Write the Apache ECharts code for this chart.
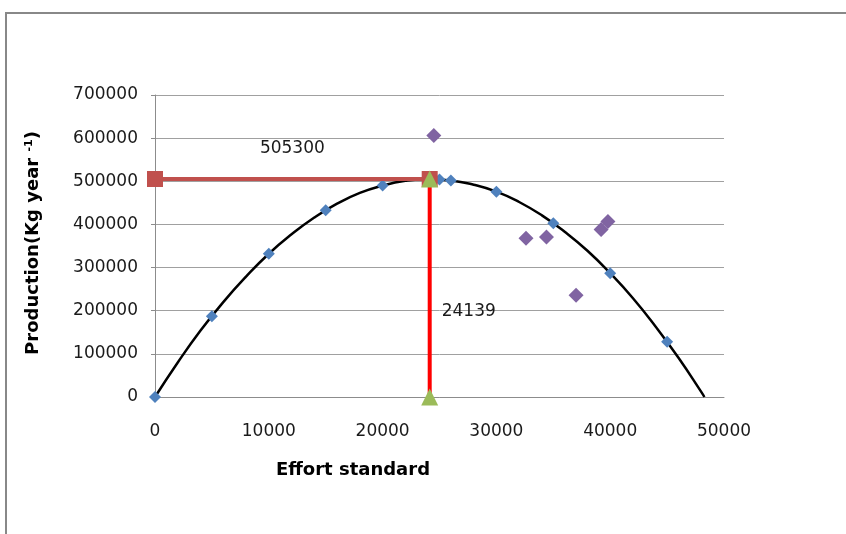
<!DOCTYPE html>
<html>
<head>
<meta charset="utf-8">
<script src="https://cdn.jsdelivr.net/npm/echarts@6/dist/echarts.min.js"></script>
<style>
html,body{margin:0;padding:0;background:#fff;}
#c{width:846px;height:534px;}
</style>
</head>
<body>
<div id="c"></div>
<script>
// Fitted production curve
const curveEffort = [0, 2000, 4000, 6000, 8000, 10000, 12000, 14000, 16000, 18000, 20000, 22000, 24000, 26000, 28000, 30000, 32000, 34000, 36000, 38000, 40000, 42000, 44000, 46000, 48000, 48280];
const curveProd   = [0, 80000, 154000, 220000, 279000, 332000, 377000, 416000, 448000, 473000, 490000, 501000, 505000, 502000, 492000, 476000, 452000, 421000, 383000, 339000, 287000, 229000, 163000, 91000, 12000, 0];

// Model points (blue diamonds)
const modelEffort = [0, 5000, 10000, 15000, 20000, 25000, 26000, 30000, 35000, 40000, 45000];
const modelProd   = [0, 187000, 332000, 433000, 490000, 504000, 502000, 476000, 403000, 287000, 128000];

// Observed points (purple diamonds)
const obsEffort = [24500, 32600, 34400, 37000, 39200, 39800];
const obsProd   = [606000, 368000, 371000, 236000, 388000, 407000];

// MSY and optimum effort
const msy = 505300;
const fmsy = 24139;

// Axis ticks
const xTicks = [0, 10000, 20000, 30000, 40000, 50000];
const yTicks = [0, 100000, 200000, 300000, 400000, 500000, 600000, 700000];

const zip = (a, b) => a.map((v, i) => [v, b[i]]);

const chart = echarts.init(document.getElementById('c'), null, {renderer: 'canvas'});
const FONT = 'DejaVu Sans';
const TXT = '#1a1a1a';
const lbl = {show: true, color: TXT, fontSize: 17, fontFamily: FONT, opacity: 1};

chart.setOption({
  animation: false,
  backgroundColor: '#fff',
  textStyle: {fontFamily: FONT},
  graphic: [{
    type: 'rect', z: -1,
    shape: {x: 6, y: 13, width: 900, height: 600},
    style: {fill: 'none', stroke: '#888888', lineWidth: 2}
  }],
  grid: {left: 155, right: 122, top: 95, bottom: 137, containLabel: false},
  xAxis: {
    type: 'value',
    min: xTicks[0], max: xTicks[xTicks.length - 1], interval: 10000,
    axisLine: {show: true, lineStyle: {color: '#8c8c8c', width: 1}},
    axisTick: {show: false},
    splitLine: {show: false},
    axisLabel: {color: TXT, fontSize: 17, fontFamily: FONT, margin: 26, formatter: v => String(v)},
    name: 'Effort standard',
    nameLocation: 'middle',
    nameGap: 64,
    nameTextStyle: {color: '#000', fontSize: 18, fontWeight: 'bold', fontFamily: FONT, padding: [0, 173, 0, 0]}
  },
  yAxis: {
    type: 'value',
    min: yTicks[0], max: yTicks[yTicks.length - 1], interval: 100000,
    axisLine: {show: true, lineStyle: {color: '#8c8c8c', width: 1}},
    axisTick: {show: true, length: 4, lineStyle: {color: '#8c8c8c'}},
    splitLine: {show: true, lineStyle: {color: '#a0a0a0', width: 1}},
    axisLabel: {color: TXT, fontSize: 17, fontFamily: FONT, margin: 17, formatter: v => String(v)},
    name: '{a|Production(Kg year }{s|-1}{a|)}',
    nameLocation: 'middle',
    nameRotate: 90,
    nameGap: 112,
    nameTextStyle: {
      padding: [0, 0, 0, 6],
      rich: {
        a: {fontSize: 18, fontWeight: 'bold', color: '#000', fontFamily: FONT},
        s: {fontSize: 11, fontWeight: 'bold', color: '#000', fontFamily: FONT, verticalAlign: 'top', padding: [0, 0, 8, 0]}
      }
    }
  },
  series: [
    {
      name: 'curve', type: 'line', smooth: true, showSymbol: false, z: 2,
      data: zip(curveEffort, curveProd),
      lineStyle: {color: '#000', width: 2.5}
    },
    {
      name: 'model', type: 'scatter', symbol: 'diamond', symbolSize: 12, z: 3,
      data: zip(modelEffort, modelProd),
      itemStyle: {color: '#4F81BD', opacity: 1}
    },
    {
      name: 'observed', type: 'scatter', symbol: 'diamond', symbolSize: 15, z: 3,
      data: zip(obsEffort, obsProd),
      itemStyle: {color: '#8064A2', opacity: 1}
    },
    {
      name: 'msy', type: 'line', symbol: 'rect', symbolSize: 16, z: 4,
      data: [[0, msy], [fmsy, msy]],
      lineStyle: {color: '#C0504D', width: 4},
      itemStyle: {color: '#C0504D'}
    },
    {
      name: 'fmsy', type: 'line', symbol: 'triangle', symbolSize: 17, z: 5,
      data: [[fmsy, 0], [fmsy, msy]],
      lineStyle: {color: '#FF0000', width: 4},
      itemStyle: {color: '#9BBB59'}
    },
    {
      name: 'labels', type: 'scatter', symbolSize: 0, z: 6, silent: true,
      itemStyle: {opacity: 1},
      data: [
        {value: [fmsy / 2, msy], label: Object.assign({}, lbl, {formatter: String(msy), position: 'top', distance: 22})},
        {value: [fmsy, msy * 0.39], label: Object.assign({}, lbl, {formatter: String(fmsy), position: 'right', distance: 12})}
      ]
    }
  ]
});
</script>
</body>
</html>
